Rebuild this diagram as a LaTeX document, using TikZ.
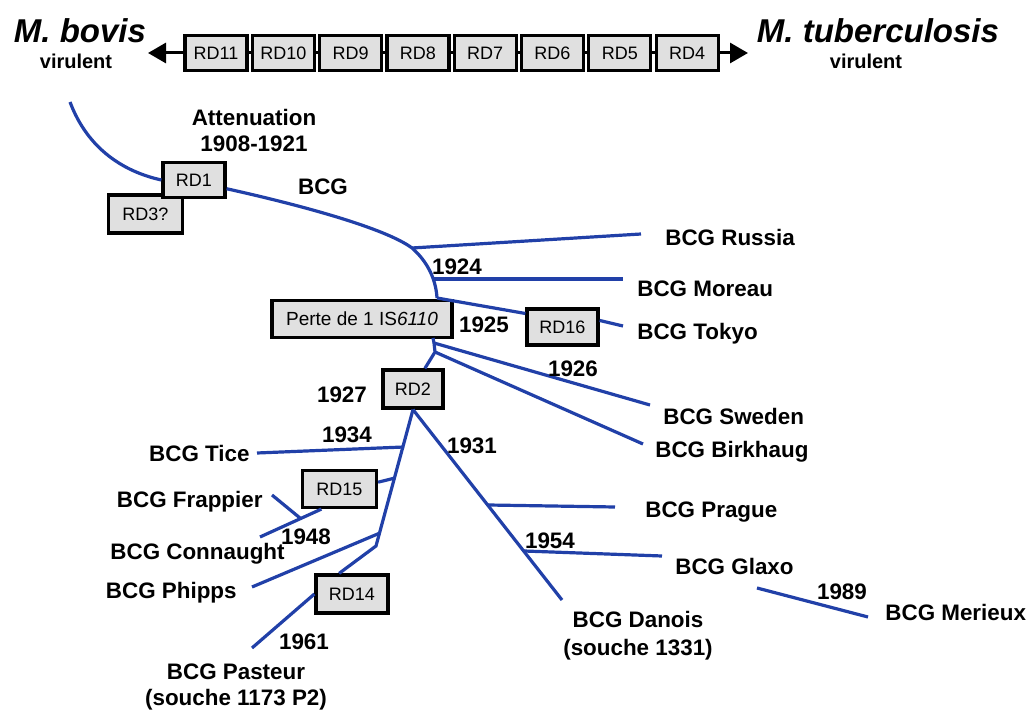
\documentclass[tikz,border=0pt]{standalone}
\usepackage{fontspec}
\setmainfont{Liberation Sans}
\usetikzlibrary{arrows.meta}
\definecolor{treeblue}{RGB}{33,64,168}
\definecolor{boxgray}{RGB}{224,224,224}
\tikzset{
  rdbox/.style={draw=black, line width=1.6pt, fill=boxgray, inner sep=0pt, minimum width=31pt, minimum height=17.5pt, font=\fontsize{9}{11}\selectfont},
  branch/.style={draw=treeblue, line width=1.6pt},
  lbl/.style={inner sep=0pt, align=center, font=\fontsize{11.2}{13}\selectfont\bfseries},
  species/.style={inner sep=0pt, font=\fontsize{16.5}{18}\selectfont\bfseries\itshape},
  vir/.style={inner sep=0pt, font=\fontsize{10}{12}\selectfont\bfseries}
}
\begin{document}
\begin{tikzpicture}[x=0.5pt, y=-0.5pt]
\useasboundingbox (0,0) rectangle (1030,711);
\coordinate (barL) at (148,53);
\coordinate (barR) at (748,53);
\draw[line width=1.5pt, {Triangle[length=9pt,width=10pt]}-{Triangle[length=9pt,width=10pt]}] (barL) -- (barR);
\foreach \rd [count=\i from 0] in {11,10,9,8,7,6,5,4}
  \node[rdbox] (RD\rd) at (216+67.3*\i,53) {RD\rd};
\node[species] (bovis) at (80,31) {M. bovis};
\node[vir] (bovisvir) at (76,61) {virulent};
\node[species] (tuber) at (878,31) {M. tuberculosis};
\node[vir] (tubervir) at (866,61) {virulent};

\node[rdbox, minimum width=37pt, minimum height=19pt] (RD3) at (145.5,214) {RD3?};
\node[rdbox] (RD1) at (194,180) {RD1};
\node[rdbox, minimum width=90pt, minimum height=18.5pt, font=\fontsize{9.5}{11}\selectfont] (perte) at (362,319) {Perte de 1 IS\textit{6110}};
\node[rdbox, minimum width=35.5pt, minimum height=18pt] (RD16) at (562.5,327) {RD16};
\node[rdbox, minimum width=30pt, minimum height=19pt] (RD2) at (413,389) {RD2};
\node[rdbox, minimum width=37pt, minimum height=18.5pt] (RD15) at (339.5,489) {RD15};
\node[rdbox, minimum width=36pt, minimum height=19pt] (RD14) at (352,594) {RD14};

\coordinate (root) at (70,102);
\coordinate (brRussia) at (412,248);
\coordinate (brMoreau) at (433,279);
\coordinate (brTokyo) at (437,298);
\coordinate (perteOut) at (433,338);
\coordinate (brSweden) at (434,343);
\coordinate (brBirk) at (435,352);
\coordinate (brTice) at (404,447);
\coordinate (brRD15) at (395,478);
\coordinate (brPhipps) at (380,533);
\coordinate (trunkEnd) at (376,546);
\coordinate (brPrague) at (488,505);
\coordinate (brGlaxo) at (524,551);
\coordinate (endRussia) at (641,234);
\coordinate (endMoreau) at (623,279);
\coordinate (endTokyo) at (623,326);
\coordinate (endSweden) at (650,405);
\coordinate (endBirk) at (643,444);
\coordinate (endDanois) at (562,600);
\coordinate (endPrague) at (615,507);
\coordinate (endGlaxo) at (662,556);
\coordinate (startMerieux) at (757,588);
\coordinate (endMerieux) at (868,617);
\coordinate (endTice) at (257,453);
\coordinate (endFrappier) at (272,495);
\coordinate (joinFrappier) at (300,518);
\coordinate (endConnaught) at (260,537);
\coordinate (endPhipps) at (252,587);
\coordinate (endPasteur) at (252,648);

\draw[branch] (root) .. controls (88,150) and (125,172) .. (RD1.west);
\draw[branch] (RD1.-15) .. controls (300,205) and (385,228) .. (brRussia) .. controls (428,262) and (436,280) .. (brTokyo);
\draw[branch] (brRussia) -- (endRussia);
\draw[branch] (brMoreau) -- (endMoreau);
\draw[branch] (brTokyo) -- (RD16.160);
\draw[branch] (RD16.10) -- (endTokyo);
\draw[branch] (perteOut) -- (brSweden) -- (brBirk) -- (RD2.60);
\draw[branch] (brSweden) -- (endSweden);
\draw[branch] (brBirk) -- (endBirk);
\draw[branch] (RD2.south) -- (endDanois);
\draw[branch] (brPrague) -- (endPrague);
\draw[branch] (brGlaxo) -- (endGlaxo);
\draw[branch] (startMerieux) -- (endMerieux);
\draw[branch] (RD2.south) -- (trunkEnd) -- (RD14.122);
\draw[branch] (brTice) -- (endTice);
\draw[branch] (brRD15) -- (RD15.10);
\draw[branch] (RD15.228) -- (endConnaught);
\draw[branch] (endFrappier) -- (joinFrappier);
\draw[branch] (brPhipps) -- (endPhipps);
\draw[branch] (RD14.west) -- (endPasteur);

\node[lbl] (attn) at (254,130) {Attenuation\\1908-1921};
\node[lbl] (bcg) at (323,187) {BCG};
\node[lbl, anchor=west] (russia) at (665,237) {BCG Russia};
\node[lbl, anchor=west] (moreau) at (637,289) {BCG Moreau};
\node[lbl, anchor=west] (tokyo) at (637,334) {BCG Tokyo};
\node[lbl, anchor=west] (sweden) at (663,416) {BCG Sweden};
\node[lbl, anchor=west] (birk) at (655,452) {BCG Birkhaug};
\node[lbl, anchor=west] (prague) at (645,512) {BCG Prague};
\node[lbl, anchor=west] (glaxo) at (675,566) {BCG Glaxo};
\node[lbl, anchor=west] (merieux) at (885,612) {BCG Merieux};
\node[lbl, font=\fontsize{11.2}{14}\selectfont\bfseries] (danois) at (638,636) {BCG Danois\\(souche 1331)};
\node[lbl, anchor=east] (tice) at (250,453) {BCG Tice};
\node[lbl, anchor=east] (frappier) at (263,502) {BCG Frappier};
\node[lbl, anchor=east] (connaught) at (285,554) {BCG Connaught};
\node[lbl, anchor=east] (phipps) at (237,593) {BCG Phipps};
\node[lbl] (pasteur) at (236,687) {BCG Pasteur\\(souche 1173 P2)};
\node[lbl] (y1924) at (457,267) {1924};
\node[lbl] (y1925) at (484,325) {1925};
\node[lbl] (y1926) at (573,369) {1926};
\node[lbl] (y1927) at (342,395) {1927};
\node[lbl] (y1931) at (472,446) {1931};
\node[lbl] (y1934) at (347,435) {1934};
\node[lbl] (y1948) at (306,537) {1948};
\node[lbl] (y1954) at (550,541) {1954};
\node[lbl] (y1961) at (304,642) {1961};
\node[lbl] (y1989) at (842,592) {1989};
\end{tikzpicture}
\end{document}
